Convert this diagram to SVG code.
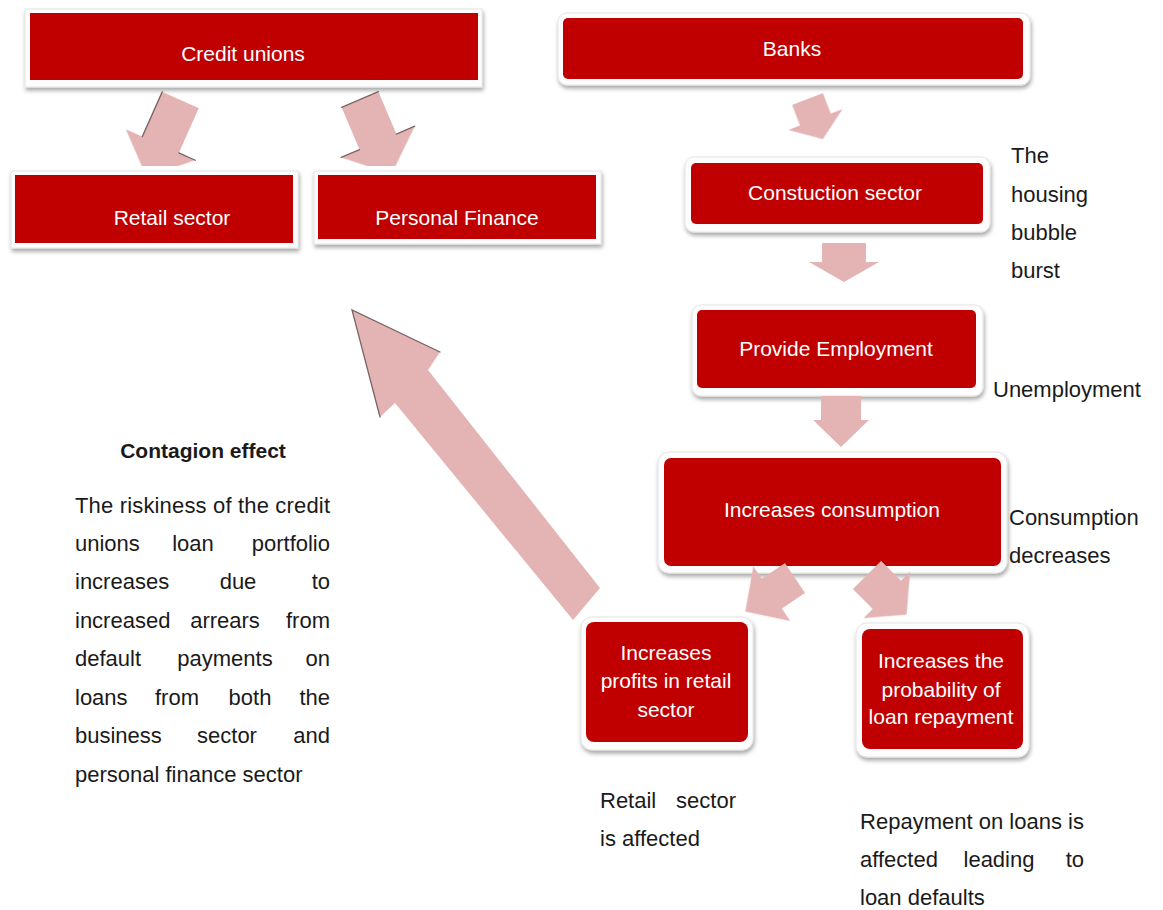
<svg xmlns="http://www.w3.org/2000/svg" width="1163" height="910" viewBox="0 0 1163 910">
  <defs>
    <filter id="sh" x="-10%" y="-20%" width="120%" height="150%">
      <feDropShadow dx="1" dy="3" stdDeviation="2" flood-color="#000" flood-opacity="0.35"/>
    </filter>
    <filter id="soft" x="-10%" y="-10%" width="120%" height="120%">
      <feGaussianBlur stdDeviation="0.5"/>
    </filter>
    <!-- the two upper arrows end flat just above the boxes they point into -->
    <clipPath id="topcut">
      <rect x="0" y="0" width="620" height="166"/>
    </clipPath>
    <style>
      .box { fill: #C00000; }
      .frame { fill: #fdfdfd; stroke: #e4e4e4; stroke-width: 1; filter: url(#sh); }
      .lbl { font-family: "Liberation Sans", Arial, sans-serif; font-size: 21px; fill: #ffffff; text-anchor: middle; }
      .note { font-family: "Liberation Sans", Arial, sans-serif; font-size: 22px; fill: #1a1a1a; }
      .mid { text-anchor: middle; }
      .end { text-anchor: end; }
      .arr { fill: #E4B4B4; filter: url(#soft); }
      .edge { fill: none; stroke: #7a6464; stroke-width: 1.3; stroke-linecap: round; }
    </style>
  </defs>

  <rect width="1163" height="910" fill="#ffffff"/>

  <!-- credit union side -->
  <g id="credit-unions">
    <rect class="frame" x="25" y="9" width="457" height="78"/>
    <rect class="box" x="30" y="13" width="448" height="67"/>
    <text class="lbl" x="243" y="61">Credit unions</text>
  </g>
  <g id="retail-sector">
    <rect class="frame" x="11" y="171" width="287" height="77"/>
    <rect class="box" x="15" y="175" width="278" height="68"/>
    <text class="lbl" x="172" y="225">Retail sector</text>
  </g>
  <g id="personal-finance">
    <rect class="frame" x="314" y="171" width="287" height="73"/>
    <rect class="box" x="318" y="175" width="278" height="64"/>
    <text class="lbl" x="457" y="225">Personal Finance</text>
  </g>

  <!-- bank side -->
  <g id="banks">
    <rect class="frame" x="558" y="13" width="472" height="72" rx="9"/>
    <rect class="box" x="563" y="18" width="460" height="61" rx="5"/>
    <text class="lbl" x="792" y="56">Banks</text>
  </g>
  <g id="construction-sector">
    <rect class="frame" x="685" y="157" width="305" height="75" rx="9"/>
    <rect class="box" x="691" y="163" width="292" height="61" rx="5"/>
    <text class="lbl" x="835" y="200">Constuction sector</text>
  </g>
  <g id="provide-employment">
    <rect class="frame" x="692" y="305" width="291" height="91" rx="9"/>
    <rect class="box" x="697" y="310" width="279" height="78" rx="5"/>
    <text class="lbl" x="836" y="356">Provide Employment</text>
  </g>
  <g id="increases-consumption">
    <rect class="frame" x="658" y="452" width="349" height="121" rx="11"/>
    <rect class="box" x="664" y="458" width="337" height="108" rx="7"/>
    <text class="lbl" x="832" y="517">Increases consumption</text>
  </g>
  <g id="retail-profits">
    <rect class="frame" x="581" y="617" width="172" height="133" rx="11"/>
    <rect class="box" x="586" y="622" width="162" height="120" rx="8"/>
    <text class="lbl" x="666" y="660">Increases</text>
    <text class="lbl" x="666" y="688">profits in retail</text>
    <text class="lbl" x="666" y="717">sector</text>
  </g>
  <g id="loan-repayment">
    <rect class="frame" x="856" y="623" width="173" height="134" rx="11"/>
    <rect class="box" x="862" y="629" width="161" height="120" rx="8"/>
    <text class="lbl" x="941" y="668">Increases the</text>
    <text class="lbl" x="941" y="697">probability of</text>
    <text class="lbl" x="941" y="724">loan repayment</text>
  </g>

  <!-- block arrows -->
  <g id="connectors">
    <!-- Credit unions -> Retail sector -->
    <g clip-path="url(#topcut)">
      <g transform="translate(180.5,100) rotate(24)">
        <polygon class="arr" points="-20,0 20,0 20,49 38,49 0,84 -38,49 -20,49"/>
        <polyline class="edge" points="-20,0 -20,49"/>
        <polyline class="edge" points="20,49 38,49"/>
      </g>
    </g>
    <!-- Credit unions -> Personal Finance -->
    <g clip-path="url(#topcut)">
      <g transform="translate(360,99.5) rotate(-23)">
        <polygon class="arr" points="-20,0 20,0 20,46 40,46 0,81 -40,46 -20,46"/>
        <polyline class="edge" points="-20,0 20,0"/>
        <polyline class="edge" points="20,46 40,46"/>
        <polyline class="edge" points="-20,46 -40,46"/>
      </g>
    </g>
    <!-- Banks -> Constuction sector -->
    <g transform="translate(807.5,99) rotate(-21)">
      <polygon class="arr" points="-16.5,0 16.5,0 16.5,22 29,22 0,43 -29,22 -16.5,22"/>
    </g>
    <!-- Constuction sector -> Provide Employment -->
    <polygon class="arr" points="822,243 866,243 866,262 879,262 844,282 809,262 822,262"/>
    <!-- Provide Employment -> Increases consumption -->
    <polygon class="arr" points="821,396 861,396 861,420 869,420 841,447 813,420 821,420"/>
    <!-- Increases consumption -> Increases profits in retail sector -->
    <g transform="translate(795,578) rotate(56)">
      <polygon class="arr" points="-18,0 18,0 18,28 33,28 0,60 -33,28 -18,28"/>
    </g>
    <!-- Increases consumption -> Increases the probability of loan repayment -->
    <g transform="translate(867,575) rotate(-45)">
      <polygon class="arr" points="-20,0 20,0 20,28 33,28 0,56 -33,28 -20,28"/>
    </g>
    <!-- contagion: retail profits back up to the credit union side -->
    <polygon class="arr" points="352,310 440,352 428,370 600,588 573,620 395,403 380,417"/>
    <polyline class="edge" points="380,417 352,310 440,352"/>
  </g>

  <!-- side notes -->
  <g id="housing-note" class="note">
    <text x="1011" y="163">The</text>
    <text x="1011" y="202">housing</text>
    <text x="1011" y="240">bubble</text>
    <text x="1011" y="278">burst</text>
  </g>
  <g id="unemployment-note" class="note">
    <text x="993" y="397">Unemployment</text>
  </g>
  <g id="consumption-note" class="note">
    <text x="1009" y="525">Consumption</text>
    <text x="1009" y="563">decreases</text>
  </g>
  <g id="retail-note" class="note">
    <text x="600" y="808">Retail</text>
    <text class="end" x="736" y="808">sector</text>
    <text x="600" y="846">is affected</text>
  </g>
  <g id="repayment-note" class="note">
    <text x="860" y="829" textLength="224" lengthAdjust="spacing">Repayment on loans is</text>
    <text x="860" y="867">affected</text>
    <text class="mid" x="999" y="867">leading</text>
    <text class="end" x="1084" y="867">to</text>
    <text x="860" y="905">loan defaults</text>
  </g>

  <!-- contagion effect paragraph (justified) -->
  <g id="contagion-effect" class="note">
    <text class="mid" x="203" y="458" font-weight="bold" font-size="21">Contagion effect</text>
    <text x="75" y="513" textLength="255" lengthAdjust="spacing">The riskiness of the credit</text>
    <text x="75" y="551">unions</text>
    <text class="mid" x="193" y="551">loan</text>
    <text class="end" x="330" y="551">portfolio</text>
    <text x="75" y="589">increases</text>
    <text class="mid" x="238" y="589">due</text>
    <text class="end" x="330" y="589">to</text>
    <text x="75" y="628">increased</text>
    <text class="mid" x="225" y="628">arrears</text>
    <text class="end" x="330" y="628">from</text>
    <text x="75" y="666">default</text>
    <text class="mid" x="225" y="666">payments</text>
    <text class="end" x="330" y="666">on</text>
    <text x="75" y="705">loans</text>
    <text class="mid" x="177" y="705">from</text>
    <text class="mid" x="250" y="705">both</text>
    <text class="end" x="330" y="705">the</text>
    <text x="75" y="743">business</text>
    <text class="mid" x="227" y="743">sector</text>
    <text class="end" x="330" y="743">and</text>
    <text x="75" y="782">personal finance sector</text>
  </g>
</svg>
